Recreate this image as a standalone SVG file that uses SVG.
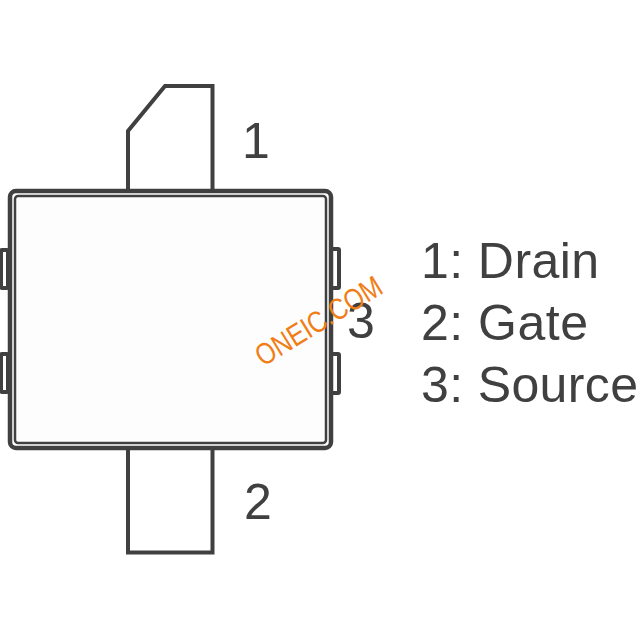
<svg xmlns="http://www.w3.org/2000/svg" width="640" height="640" viewBox="0 0 640 640">
<style>
.l{fill:none;stroke:#404041;stroke-width:4;stroke-linejoin:miter}
.t{font-family:"Liberation Sans",Arial,sans-serif;font-size:50px;fill:#404041}
.d{font-family:"Liberation Sans",Arial,sans-serif;font-size:50px;fill:#404041}
</style>
<rect width="640" height="640" fill="#fff"/>
<g id="pin1"><path class="l" d="M128 189V131L165 86H212.500V189"/></g>
<g id="pin2"><path class="l" d="M128 449V552.500H212.500V449"/></g>
<g id="tabs">
<rect class="l" x="1" y="250" width="7" height="38" rx="1"/>
<rect class="l" x="1" y="354" width="7" height="38" rx="1"/>
<rect class="l" x="331" y="249" width="8" height="39" rx="1"/>
<rect class="l" x="331" y="354" width="8" height="39" rx="1"/>
</g>
<g id="body">
<rect x="10" y="191" width="321" height="257" rx="6" fill="#fff" stroke="#404041" stroke-width="4.500"/>
<rect x="15" y="196" width="311" height="247" rx="3" fill="#fdfdfd" stroke="#404041" stroke-width="2.500"/>
</g>
<g id="labels">
<text class="d" x="242" y="158">1</text>
<text class="d" x="244" y="519">2</text>
<text class="d" x="347" y="338">3</text>
<text class="t" x="421" y="278" textLength="178">1: Drain</text>
<text class="t" x="421" y="340" textLength="167">2: Gate</text>
<text class="t" x="421" y="402" textLength="217">3: Source</text>
</g>
<text x="0" y="0" transform="translate(263 367) rotate(-31.500)" font-family="Liberation Sans,Arial,sans-serif" font-size="30" fill="#f07d16" textLength="143" lengthAdjust="spacingAndGlyphs">ONEIC.COM</text>
</svg>
